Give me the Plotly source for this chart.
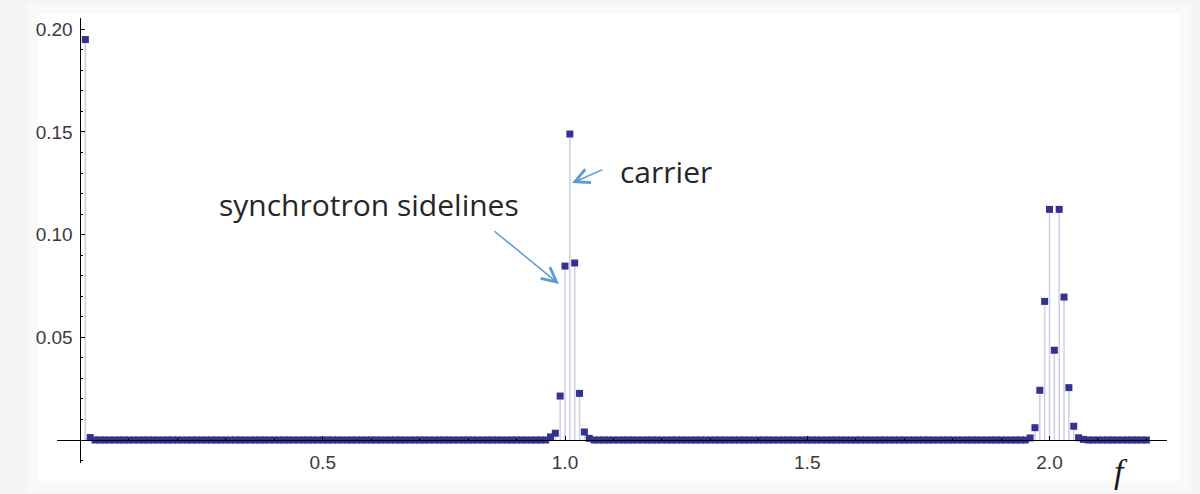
import numpy as np
import plotly.graph_objects as go

# Frequency grid of the spectrum (units of the revolution frequency)
freq = np.round(np.arange(1, 221) * 0.01, 2)

# Non-zero spectral lines: DC term, carrier with synchrotron sidelines, 2nd harmonic
line_freq = [0.01, 0.02,
             0.97, 0.98, 0.99, 1.00, 1.01, 1.02, 1.03, 1.04, 1.05,
             1.96, 1.97, 1.98, 1.99, 2.00, 2.01, 2.02, 2.03, 2.04, 2.05, 2.06, 2.07]
line_amp = [0.195, 0.0012,
            0.0015, 0.0033, 0.0214, 0.0847, 0.149, 0.0862, 0.0227, 0.0039, 0.0008,
            0.0010, 0.0060, 0.0242, 0.0675, 0.1123, 0.0437, 0.1123, 0.0696, 0.0255, 0.0067, 0.0011, 0.0003]

amp = np.zeros(len(freq))
for f, a in zip(line_freq, line_amp):
    amp[int(np.argmin(np.abs(freq - f)))] = a

x_ticks = [0.5, 1.0, 1.5, 2.0]
x_tick_text = ["0.5", "1.0", "1.5", "2.0"]
y_ticks = [0.05, 0.10, 0.15, 0.20]
y_tick_text = ["0.05", "0.10", "0.15", "0.20"]

# Figure geometry
W, H = 1200, 494
L, R, T, B = 57, 33, 18, 31
X_RANGE = [-0.0485, 2.2425]
Y_RANGE = [-0.0112, 0.2055]


def px_x(px):
    return (px - L) / (W - L - R)


def px_y(py):
    return (H - B - py) / (H - T - B)


POINT_COLOR = "#33338f"
STEM_COLOR = "rgba(61,61,153,0.25)"
TICK_FONT = dict(family="Liberation Sans, Arial, sans-serif", size=19, color="#3a3a3a")

# Filling from the axis to each point
stem_x, stem_y = [], []
for f, a in zip(freq, amp):
    stem_x += [f, f, None]
    stem_y += [0, a, None]

fig = go.Figure()
fig.add_trace(go.Scatter(x=stem_x, y=stem_y, mode="lines",
                         line=dict(color=STEM_COLOR, width=1.5),
                         hoverinfo="skip", showlegend=False))
fig.add_trace(go.Scatter(x=freq, y=amp, mode="markers",
                         marker=dict(symbol="square", size=7, color=POINT_COLOR,
                                     line=dict(width=0)),
                         showlegend=False))

# Soft-edged white card behind the plot
shapes = []
cx0, cy0, cx1, cy1 = 38, 14, 1180, 481
for i in range(14):
    d = 14 - i
    shapes.append(dict(type="rect", xref="paper", yref="paper", layer="below",
                       x0=px_x(cx0 - d), x1=px_x(cx1 + d),
                       y0=px_y(cy1 + d), y1=px_y(cy0 - d),
                       fillcolor="rgba(255,255,255,0.14)", line=dict(width=0)))
shapes.append(dict(type="rect", xref="paper", yref="paper", layer="below",
                   x0=px_x(cx0), x1=px_x(cx1), y0=px_y(cy1), y1=px_y(cy0),
                   fillcolor="white", line=dict(width=0)))

ARROW_COLOR = "#5b9bd5"
TEXT_FONT = dict(family="Open Sans, Noto Sans, sans-serif", size=30, color="#262626")

annotations = [
    dict(text="carrier", xref="paper", yref="paper", x=px_x(618), y=px_y(171),
         xanchor="left", yanchor="middle", showarrow=False, font=TEXT_FONT),
    dict(text="synchrotron sidelines", xref="paper", yref="paper", x=px_x(217), y=px_y(204),
         xanchor="left", yanchor="middle", showarrow=False, font=TEXT_FONT),
    dict(text="", xref="paper", yref="paper", x=px_x(572), y=px_y(183),
         ax=32, ay=-14, showarrow=True, arrowhead=5, arrowsize=1.9, arrowwidth=1.5,
         arrowcolor=ARROW_COLOR, standoff=0),
    dict(text="", xref="paper", yref="paper", x=px_x(559), y=px_y(284),
         ax=-66, ay=-54, showarrow=True, arrowhead=5, arrowsize=1.9, arrowwidth=1.5,
         arrowcolor=ARROW_COLOR, standoff=0),
    dict(text="<i>f</i>", xref="paper", yref="paper", x=px_x(1121), y=px_y(471),
         xanchor="center", yanchor="middle", showarrow=False,
         font=dict(family="Liberation Serif, DejaVu Serif, serif", size=34, color="#1a1a1a")),
]

x_pos = (0 - Y_RANGE[0]) / (Y_RANGE[1] - Y_RANGE[0])
y_pos = (0 - X_RANGE[0]) / (X_RANGE[1] - X_RANGE[0])

fig.update_layout(
    width=W, height=H,
    margin=dict(l=L, r=R, t=T, b=B, pad=0),
    paper_bgcolor="#f3f3f3",
    plot_bgcolor="rgba(0,0,0,0)",
    shapes=shapes,
    annotations=annotations,
    showlegend=False,
    xaxis=dict(range=X_RANGE, domain=[0, 1], anchor="free", position=x_pos,
               showline=True, linecolor="black", linewidth=1,
               showgrid=False, zeroline=False,
               tickmode="array", tickvals=x_ticks, ticktext=x_tick_text,
               ticks="inside", ticklen=4, tickwidth=1, tickcolor="black",
               tickfont=TICK_FONT, ticklabelstandoff=5,
               minor=dict(tickmode="linear", tick0=0, dtick=0.1, ticks="inside",
                          ticklen=2, tickwidth=1, tickcolor="black", showgrid=False)),
    yaxis=dict(range=Y_RANGE, domain=[0, 1], anchor="free", position=y_pos,
               showline=True, linecolor="black", linewidth=1,
               showgrid=False, zeroline=False,
               tickmode="array", tickvals=y_ticks, ticktext=y_tick_text,
               ticks="inside", ticklen=4, tickwidth=1, tickcolor="black",
               tickfont=TICK_FONT, ticklabelstandoff=4,
               minor=dict(tickmode="linear", tick0=0, dtick=0.01, ticks="inside",
                          ticklen=2, tickwidth=1, tickcolor="black", showgrid=False)),
)

fig.write_html("out.html")
